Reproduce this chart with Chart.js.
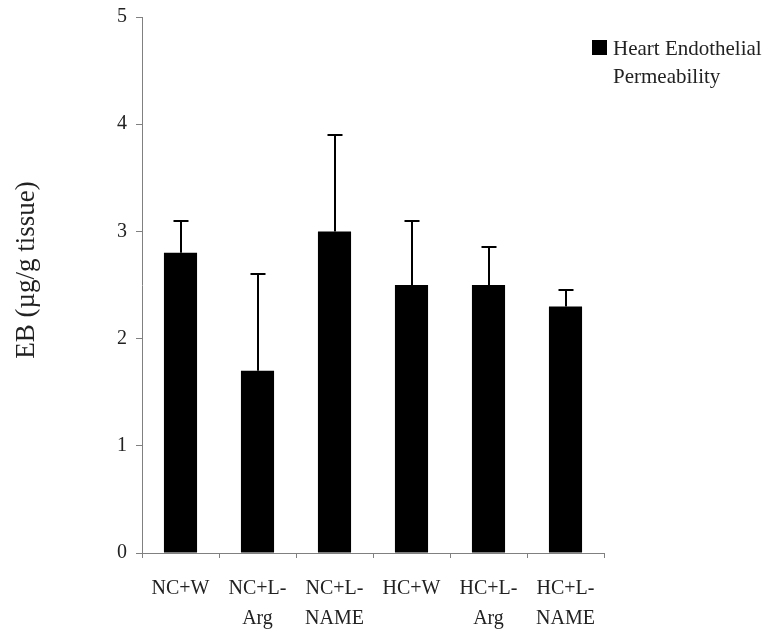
<!DOCTYPE html>
<html>
<head>
<meta charset="utf-8">
<script src="https://cdn.jsdelivr.net/npm/chart.js@4/dist/chart.umd.min.js"></script>
<style>
html,body{margin:0;padding:0;background:#fff;}
#wrap{width:771px;height:629px;position:relative;}
</style>
</head>
<body>
<div id="wrap"><canvas id="c" width="771" height="629"></canvas></div>
<script>
const categories = ["NC+W", ["NC+L-","Arg"], ["NC+L-","NAME"], "HC+W", ["HC+L-","Arg"], ["HC+L-","NAME"]];
const seriesName = ["Heart Endothelial", "Permeability"];
const values = [2.8, 1.7, 3.0, 2.5, 2.5, 2.3];
const errors = [0.3, 0.9, 0.9, 0.6, 0.35, 0.15];
const yTicks = [0, 1, 2, 3, 4, 5];
const yTitle = "EB (µg/g tissue)";

const FONT = "'Liberation Serif', 'Times New Roman', serif";

const errorBars = {
  id: 'errorBars',
  afterDatasetsDraw(chart) {
    const ctx = chart.ctx;
    const meta = chart.getDatasetMeta(0);
    const y = chart.scales.y;
    ctx.save();
    ctx.strokeStyle = '#000';
    ctx.lineWidth = 2;
    meta.data.forEach((bar, i) => {
      const top = Math.round(y.getPixelForValue(values[i] + errors[i]));
      const base = y.getPixelForValue(values[i]);
      const x = Math.round(bar.x);
      ctx.beginPath();
      ctx.moveTo(x, base);
      ctx.lineTo(x, top);
      ctx.moveTo(x - 7.5, top);
      ctx.lineTo(x + 7.5, top);
      ctx.stroke();
    });
    ctx.restore();
  }
};

const textPlugin = {
  id: 'customText',
  afterDraw(chart) {
    const ctx = chart.ctx;
    ctx.save();
    // legend
    ctx.fillStyle = '#000';
    ctx.fillRect(592, 40, 15, 15);
    ctx.fillStyle = '#222';
    ctx.font = "21px " + FONT;
    ctx.textBaseline = 'alphabetic';
    ctx.textAlign = 'left';
    ctx.fillText(seriesName[0], 613, 55);
    ctx.fillText(seriesName[1], 613, 83);
    // y axis title
    ctx.translate(27, 270);
    ctx.rotate(-Math.PI / 2);
    ctx.font = "27px " + FONT;
    ctx.textAlign = 'center';
    ctx.textBaseline = 'middle';
    ctx.fillText(yTitle, 0, 0);
    ctx.restore();
  }
};

new Chart(document.getElementById('c'), {
  type: 'bar',
  data: {
    labels: categories,
    datasets: [{
      label: seriesName.join(' '),
      data: values,
      backgroundColor: '#000',
      borderWidth: 0,
      barPercentage: 0.43,
      categoryPercentage: 1.0
    }]
  },
  options: {
    responsive: false,
    animation: false,
    devicePixelRatio: 1,
    layout: { padding: { left: 0, right: 167, top: 17, bottom: 0 } },
    plugins: { legend: { display: false }, tooltip: { enabled: false } },
    scales: {
      x: {
        offset: true,
        afterFit(scale) { scale.height = 76; scale.paddingLeft = 0; scale.paddingRight = 0; },
        grid: { offset: true, drawOnChartArea: false, drawTicks: true, tickLength: 5, color: '#808080', lineWidth: 1 },
        border: { color: '#808080', width: 1 },
        ticks: { color: '#222', font: { family: FONT, size: 20, lineHeight: 1.5 }, padding: 16, maxRotation: 0, autoSkip: false }
      },
      y: {
        min: 0, max: 5,
        afterBuildTicks(scale) { scale.ticks = yTicks.map(v => ({ value: v })); },
        afterFit(scale) { scale.width = 142; scale.paddingTop = 0; scale.paddingBottom = 0; },
        grid: { drawOnChartArea: false, drawTicks: true, tickLength: 6, color: '#808080' },
        border: { color: '#808080', width: 1 },
        ticks: { color: '#222', font: { family: FONT, size: 20 }, padding: 9 },
        title: { display: false }
      }
    }
  },
  plugins: [errorBars, textPlugin]
});
</script>
</body>
</html>
